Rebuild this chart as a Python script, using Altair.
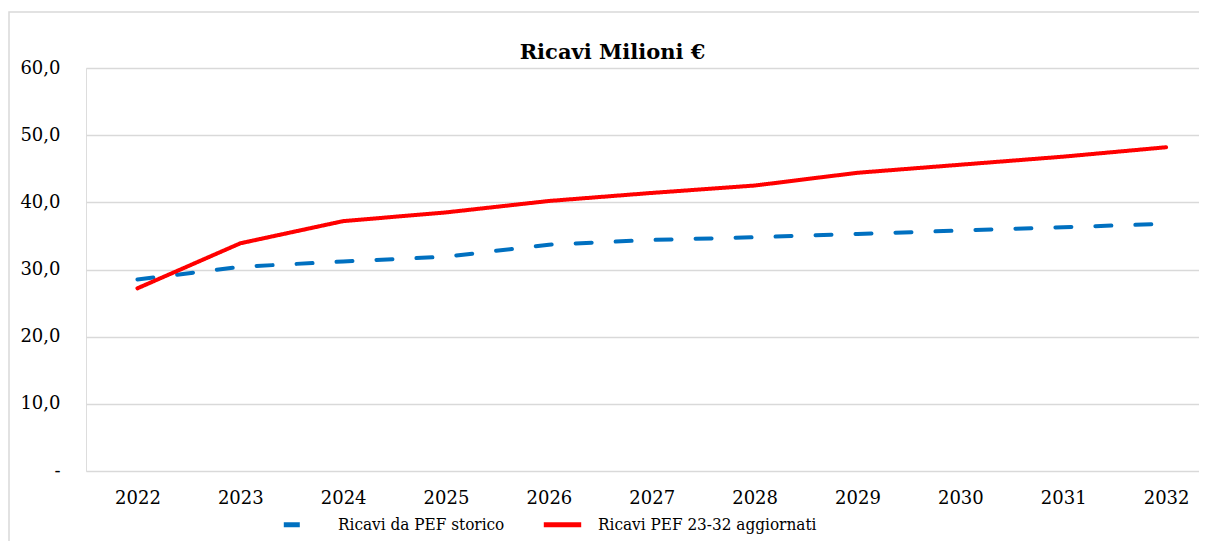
import altair as alt
import pandas as pd

years = [2022, 2023, 2024, 2025, 2026, 2027, 2028, 2029, 2030, 2031, 2032]
ricavi_storico = [28.5, 30.4, 31.2, 31.9, 33.7, 34.4, 34.8, 35.3, 35.8, 36.3, 36.8]
ricavi_aggiornati = [27.2, 33.9, 37.2, 38.5, 40.2, 41.4, 42.5, 44.4, 45.6, 46.8, 48.2]
series_names = ["Ricavi da PEF storico", "Ricavi PEF 23-32 aggiornati"]
y_ticks = [0, 10, 20, 30, 40, 50, 60]
title_text = "Ricavi Milioni €"

rows = []
for y, v in zip(years, ricavi_storico):
    rows.append({"year": y, "value": v, "series": series_names[0]})
for y, v in zip(years, ricavi_aggiornati):
    rows.append({"year": y, "value": v, "series": series_names[1]})
df = pd.DataFrame(rows)

FONT = "DejaVu Serif"
LFONT = "DejaVu Serif Condensed, DejaVu Serif"
W, H = 1113, 403

legend_kw = dict(title=None, orient="none", legendX=195, legendY=435,
                 direction="horizontal", symbolType="stroke",
                 symbolSize=1400, symbolStrokeWidth=5,
                 labelFontSize=17, labelFont=LFONT, labelColor="#000000",
                 labelLimit=500, columnPadding=28, labelOffset=14)

lines = alt.Chart(df).mark_line(strokeWidth=4, strokeCap="round", strokeJoin="round").encode(
    x=alt.X("year:Q",
            scale=alt.Scale(domain=[2021.5, 2032.32], nice=False, zero=False),
            axis=alt.Axis(values=years, format="d", grid=False, domain=False, ticks=False,
                          labelPadding=18, title=None, labelFontSize=18, labelFont=FONT,
                          labelColor="#000000")),
    y=alt.Y("value:Q",
            scale=alt.Scale(domain=[0, 60], nice=False),
            axis=alt.Axis(values=y_ticks, grid=True, gridColor="#d9d9d9", gridWidth=1.5,
                          domain=False, ticks=False, title=None, labelPadding=26,
                          labelFontSize=18, labelFont=FONT, labelColor="#000000",
                          labelExpr="datum.value == 0 ? '-\u00a0\u00a0\u00a0' : replace(format(datum.value, '.1f'), '.', ',')")),
    color=alt.Color("series:N",
                    scale=alt.Scale(domain=series_names, range=["#0070C0", "#FF0000"]),
                    legend=alt.Legend(**legend_kw)),
    strokeDash=alt.StrokeDash("series:N",
                              scale=alt.Scale(domain=series_names, range=[[16, 24], [1, 0]]),
                              legend=alt.Legend(**legend_kw)),
)

border = alt.Chart(pd.DataFrame({"a": [0]})).mark_rect(
    fill=None, stroke="#d9d9d9", strokeWidth=1.5
).encode(
    x=alt.value(-77), x2=alt.value(1200), y=alt.value(-56), y2=alt.value(600)
)

chart = alt.layer(border, lines).properties(
    width=W, height=H,
    title=alt.TitleParams(title_text, font=FONT, fontSize=21, fontWeight="bold",
                          color="#000000", anchor="middle", dx=-30, dy=52, offset=0),
    autosize=alt.AutoSizeParams(type="none"),
    padding={"left": 78, "top": 60, "right": 0, "bottom": 70},
).configure_view(stroke=None).configure(background="white", font=FONT)

chart.save("out.html", embed_options={"renderer": "svg", "actions": False})
